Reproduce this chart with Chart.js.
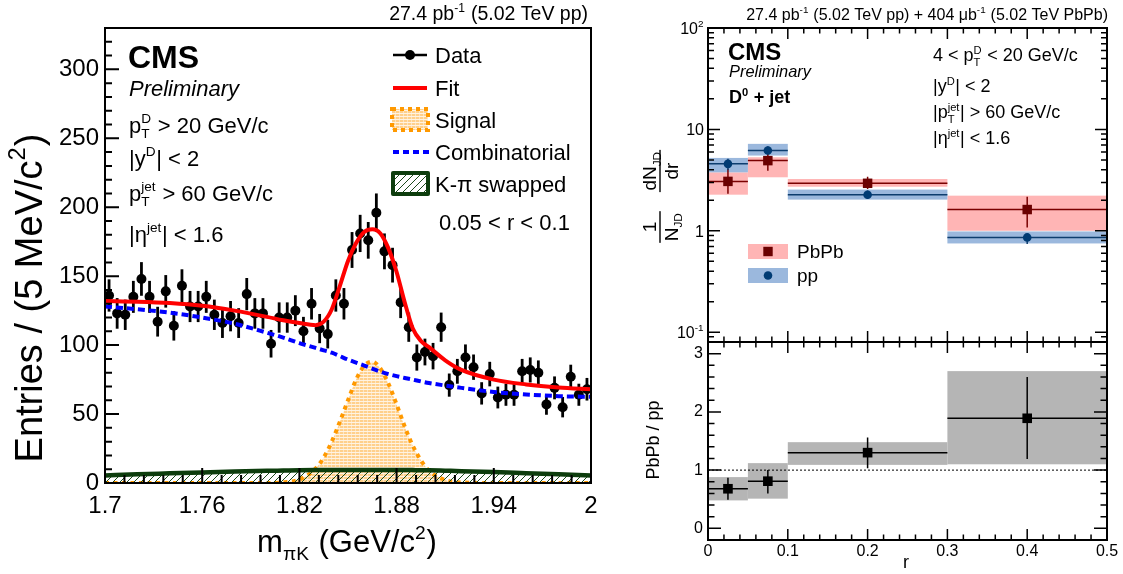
<!DOCTYPE html>
<html>
<head>
<meta charset="utf-8">
<title>D0 + jet radial distribution</title>
<script src="https://cdn.jsdelivr.net/npm/chart.js@4.4.1/dist/chart.umd.min.js"></script>
<style>
  html, body { margin: 0; padding: 0; background: #fff; }
  #wrap { position: relative; width: 1123px; height: 574px; overflow: hidden; background: #fff; }
  canvas { position: absolute; left: 0; top: 0; }
</style>
</head>
<body>
<div id="wrap">
  <canvas id="mass" width="1123" height="574"></canvas>
  <canvas id="dist" width="1123" height="574"></canvas>
  <canvas id="ratio" width="1123" height="574"></canvas>
</div>
<script>
// ---------- invariant-mass fit (0.05 < r < 0.1) ----------
const MASS_CENTRES = [
  1.7025, 1.7075, 1.7125, 1.7175, 1.7225, 1.7275, 1.7325, 1.7375, 1.7425, 1.7475,
  1.7525, 1.7575, 1.7625, 1.7675, 1.7725, 1.7775, 1.7825, 1.7875, 1.7925, 1.7975,
  1.8025, 1.8075, 1.8125, 1.8175, 1.8225, 1.8275, 1.8325, 1.8375, 1.8425, 1.8475,
  1.8525, 1.8575, 1.8625, 1.8675, 1.8725, 1.8775, 1.8825, 1.8875, 1.8925, 1.8975,
  1.9025, 1.9075, 1.9125, 1.9175, 1.9225, 1.9275, 1.9325, 1.9375, 1.9425, 1.9475,
  1.9525, 1.9575, 1.9625, 1.9675, 1.9725, 1.9775, 1.9825, 1.9875, 1.9925, 1.9975
];
const COUNTS = [
  136, 123, 122, 135, 148, 135, 117, 139, 114, 143,
  128, 128, 135, 122, 116, 121, 116, 137, 123, 123,
  101, 120, 120, 125, 110, 130, 112, 108, 136, 130,
  169, 181, 176, 196, 168, 158, 131, 113, 91, 95,
  92, 113, 71, 81, 91, 84, 65, 79, 62, 64,
  64, 81, 82, 80, 57, 69, 55, 77, 64, 68
];
const COUNT_ERRORS = [
  11.7, 11.1, 11.0, 11.6, 12.2, 11.6, 10.8, 11.8, 10.7, 12.0,
  11.3, 11.3, 11.6, 11.0, 10.8, 11.0, 10.8, 11.7, 11.1, 11.1,
  10.0, 11.0, 11.0, 11.2, 10.5, 11.4, 10.6, 10.4, 11.7, 11.4,
  13.0, 13.5, 13.3, 14.0, 13.0, 12.6, 11.4, 10.6, 9.5, 9.7,
  9.6, 10.6, 8.4, 9.0, 9.5, 9.2, 8.1, 8.9, 7.9, 8.0,
  8.0, 9.0, 9.1, 8.9, 7.5, 8.3, 7.4, 8.8, 8.0, 8.2
];
// fit components, sampled along the mass axis
const FIT_MASS = [1.70, 1.72, 1.74, 1.76, 1.78, 1.80, 1.81, 1.82, 1.83, 1.835, 1.84, 1.845, 1.85, 1.855,
  1.86, 1.865, 1.87, 1.875, 1.88, 1.885, 1.89, 1.895, 1.90, 1.91, 1.92, 1.94, 1.96, 1.98, 2.00];
const FIT_TOTAL = [132, 131.5, 130.5, 128.5, 125, 120.5, 118, 116, 114.5, 117, 126, 143, 161, 174,
  182, 184, 181, 170, 153, 131, 112, 103, 98.5, 89, 82, 75, 71.5, 69.3, 68];
const COMBINATORIAL = [128, 126, 123.5, 120, 115.5, 109, 105.5, 101.5, 98, 96.2, 94.5, 92, 89.5, 87.3,
  85.2, 83, 80.8, 79, 77.5, 76.2, 75, 73.7, 72.5, 70.7, 69, 66, 64.2, 63, 62.5];
const SIGNAL = [0, 0, 0, 0, 0, 0, 0.5, 2.5, 10.5, 18.5, 30, 44.5, 60, 75,
  85, 88, 83, 72, 57, 41, 27, 16.5, 9, 2.2, 0.4, 0, 0, 0, 0];
const SWAPPED = [5.5, 6.3, 7.0, 7.7, 8.3, 8.8, 9.0, 9.2, 9.35, 9.4, 9.45, 9.5, 9.5, 9.5,
  9.5, 9.5, 9.5, 9.5, 9.45, 9.4, 9.35, 9.3, 9.2, 8.9, 8.6, 7.9, 7.1, 6.3, 5.5];
const MASS_TICKS = [1.7, 1.76, 1.82, 1.88, 1.94, 2.0];
const COUNT_TICKS = [0, 50, 100, 150, 200, 250, 300];

// ---------- radial distributions ----------
const R_LOW = [0, 0.05, 0.1, 0.3];
const R_HIGH = [0.05, 0.1, 0.3, 0.5];
const R_CENTRE = [0.025, 0.075, 0.2, 0.4];
const PBPB = [3.07, 4.92, 2.94, 1.62];
const PBPB_STAT_LO = [2.32, 3.92, 2.58, 1.08];
const PBPB_STAT_HI = [4.08, 5.74, 3.42, 2.17];
const PBPB_SYST_LO = [2.27, 3.37, 2.72, 1.00];
const PBPB_SYST_HI = [3.77, 5.31, 3.24, 2.22];
const PP = [4.57, 6.19, 2.27, 0.86];
const PP_STAT_LO = [3.98, 5.64, 2.06, 0.74];
const PP_STAT_HI = [5.12, 6.83, 2.49, 0.93];
const PP_SYST_LO = [3.77, 5.52, 2.03, 0.75];
const PP_SYST_HI = [5.23, 7.20, 2.55, 0.985];
const RATIO = [0.68, 0.81, 1.30, 1.89];
const RATIO_STAT_LO = [0.49, 0.60, 1.03, 1.19];
const RATIO_STAT_HI = [0.87, 1.00, 1.56, 2.60];
const RATIO_SYST_LO = [0.48, 0.51, 1.09, 1.10];
const RATIO_SYST_HI = [0.88, 1.12, 1.48, 2.70];
const RATIO_REFERENCE = 1;
const R_TICKS = [0, 0.1, 0.2, 0.3, 0.4, 0.5];
const DIST_TICKS = [0.1, 1, 10, 100];
const DIST_TICK_LABELS = [['10', { sup: '-1' }], ['1'], ['10'], ['10', { sup: '2' }]];
const RATIO_TICKS = [0, 1, 2, 3];

// ---------- helpers ----------
const FONT = "'Liberation Sans', Arial, Helvetica, sans-serif";
Chart.defaults.font.family = FONT;
Chart.defaults.color = '#000';
Chart.defaults.animation = false;
Chart.defaults.events = [];
Chart.defaults.plugins.legend.display = false;
Chart.defaults.plugins.tooltip.enabled = false;

const pts = (xs, ys) => xs.map((x, i) => ({ x, y: ys[i] }));
const fixTicks = values => s => { s.ticks = values.map(v => ({ value: v })); };
const fontStr = (size, o) => `${o.style || 'normal'} ${o.weight || 'normal'} ${size}px ${FONT}`;

// rich text: strings, or {sup, sub} pieces stacked after the preceding glyph
function segWidth(ctx, seg, o) {
  if (typeof seg === 'string') { ctx.font = fontStr(o.size, o); return ctx.measureText(seg).width; }
  ctx.font = fontStr(o.size * 0.62, o);
  const a = seg.sup ? ctx.measureText(seg.sup).width : 0;
  const b = seg.sub ? ctx.measureText(seg.sub).width : 0;
  return Math.max(a, b) + o.size * 0.03;
}
function richWidth(ctx, segs, o) { return segs.reduce((t, s) => t + segWidth(ctx, s, o), 0); }
function drawRich(ctx, segs, x, y, o) {
  const widths = segs.map(s => segWidth(ctx, s, o));
  const total = widths.reduce((a, b) => a + b, 0);
  let cx = o.align === 'right' ? x - total : o.align === 'center' ? x - total / 2 : x;
  const base = y + o.size * 0.358;
  ctx.save();
  ctx.fillStyle = o.color || '#000';
  ctx.textAlign = 'left';
  ctx.textBaseline = 'alphabetic';
  segs.forEach((s, i) => {
    if (typeof s === 'string') {
      ctx.font = fontStr(o.size, o);
      ctx.fillText(s, cx, base);
    } else {
      ctx.font = fontStr(o.size * 0.62, o);
      if (s.sup) ctx.fillText(s.sup, cx, base - o.size * 0.43);
      if (s.sub) ctx.fillText(s.sub, cx, base + o.size * 0.24);
    }
    cx += widths[i];
  });
  ctx.restore();
}
function drawRichRotated(ctx, segs, x, y, o) {
  ctx.save();
  ctx.translate(x, y);
  ctx.rotate(-Math.PI / 2);
  drawRich(ctx, segs, 0, 0, Object.assign({}, o, { align: 'center' }));
  ctx.restore();
}

// fill patterns
function makeHatch() {
  const c = document.createElement('canvas'); c.width = 7; c.height = 7;
  const g = c.getContext('2d');
  g.strokeStyle = '#1b4a1b'; g.lineWidth = 1;
  g.beginPath();
  g.moveTo(0, 7); g.lineTo(7, 0);
  g.moveTo(-1, 1); g.lineTo(1, -1);
  g.moveTo(6, 8); g.lineTo(8, 6);
  g.stroke();
  return g.createPattern(c, 'repeat');
}
function makeSignalFill() {
  const c = document.createElement('canvas'); c.width = 4; c.height = 3;
  const g = c.getContext('2d');
  g.fillStyle = '#ffd08c'; g.fillRect(0, 0, 4, 3);
  g.fillStyle = 'rgba(255,255,255,0.75)'; g.fillRect(0, 2, 4, 1);
  g.fillStyle = 'rgba(255,255,255,0.45)'; g.fillRect(3, 0, 1, 2);
  return g.createPattern(c, 'repeat');
}
const HATCH = makeHatch();
const SIGNAL_FILL = makeSignalFill();

function range(a, b, step) {
  const out = [];
  for (let v = a; v <= b + 1e-9; v += step) out.push(+v.toFixed(6));
  return out;
}

// error bars and systematic boxes, placed through the chart scales
const errorBars = {
  id: 'errorBars',
  beforeDatasetsDraw(chart) {
    const { ctx, chartArea: a, scales: { x, y } } = chart;
    ctx.save();
    ctx.beginPath(); ctx.rect(a.left, a.top, a.right - a.left, a.bottom - a.top); ctx.clip();
    chart.data.datasets.forEach(ds => {
      const b = ds.systBoxes; if (!b) return;
      ctx.fillStyle = b.color;
      b.lo.forEach((lo, i) => {
        const x0 = x.getPixelForValue(b.xLo[i]), x1 = x.getPixelForValue(b.xHi[i]);
        const y0 = y.getPixelForValue(b.hi[i]), y1 = y.getPixelForValue(lo);
        ctx.fillRect(x0, y0, x1 - x0, y1 - y0);
      });
    });
    chart.data.datasets.forEach(ds => {
      const e = ds.errorBars; if (!e) return;
      ctx.strokeStyle = e.color; ctx.lineWidth = e.width; ctx.setLineDash([]);
      ds.data.forEach((p, i) => {
        const px = x.getPixelForValue(p.x);
        ctx.beginPath();
        ctx.moveTo(px, y.getPixelForValue(e.lo[i]));
        ctx.lineTo(px, y.getPixelForValue(e.hi[i]));
        if (e.xLo) {
          const py = y.getPixelForValue(p.y);
          ctx.moveTo(x.getPixelForValue(e.xLo[i]), py);
          ctx.lineTo(x.getPixelForValue(e.xHi[i]), py);
        }
        ctx.stroke();
      });
    });
    ctx.restore();
  }
};

// frame with inward ticks
const rootFrame = {
  id: 'rootFrame',
  afterDatasetsDraw(chart, args, o) {
    const { ctx, chartArea: a, scales } = chart;
    ctx.save();
    ctx.strokeStyle = '#000'; ctx.setLineDash([]); ctx.lineWidth = o.tickWidth;
    ctx.beginPath();
    const doAxis = (spec, scale, horizontal) => {
      if (!spec) return;
      const mark = (v, len) => {
        const p = scale.getPixelForValue(v);
        spec.sides.forEach(s => {
          if (horizontal) {
            if (s === 'bottom') { ctx.moveTo(p, a.bottom); ctx.lineTo(p, a.bottom - len); }
            if (s === 'top') { ctx.moveTo(p, a.top); ctx.lineTo(p, a.top + len); }
          } else {
            if (s === 'left') { ctx.moveTo(a.left, p); ctx.lineTo(a.left + len, p); }
            if (s === 'right') { ctx.moveTo(a.right, p); ctx.lineTo(a.right - len, p); }
          }
        });
      };
      spec.minor.forEach(v => mark(v, spec.len[1]));
      spec.major.forEach(v => mark(v, spec.len[0]));
    };
    doAxis(o.x, scales.x, true);
    doAxis(o.y, scales.y, false);
    ctx.stroke();
    ctx.lineWidth = o.lineWidth;
    ctx.strokeRect(a.left, a.top, a.right - a.left, a.bottom - a.top);
    ctx.restore();
  }
};

// ---------- left: invariant mass ----------
const massText = {
  id: 'massText',
  afterDraw(chart) {
    const ctx = chart.ctx;
    drawRich(ctx, ['27.4 pb', { sup: '-1' }, ' (5.02 TeV pp)'], 588, 13, { size: 19.5, align: 'right' });
    drawRich(ctx, ['CMS'], 128, 57, { size: 32, weight: 'bold' });
    drawRich(ctx, ['Preliminary'], 129, 88, { size: 22, style: 'italic' });
    drawRich(ctx, ['p', { sub: 'T', sup: 'D' }, ' > 20 GeV/c'], 129, 125, { size: 22 });
    drawRich(ctx, ['|y', { sup: 'D' }, '| < 2'], 129, 158, { size: 22 });
    drawRich(ctx, ['p', { sub: 'T', sup: 'jet' }, ' > 60 GeV/c'], 129, 193, { size: 22 });
    drawRich(ctx, ['|\u03B7', { sup: 'jet' }, '| < 1.6'], 129, 234, { size: 22 });
    drawRich(ctx, ['0.05 < r < 0.1'], 439, 222, { size: 22 });

    // legend
    const lx0 = 393, lx1 = 427, tx = 435;
    ctx.save();
    ctx.lineCap = 'butt';
    ctx.strokeStyle = '#000'; ctx.lineWidth = 2.5;
    ctx.beginPath(); ctx.moveTo(lx0, 55); ctx.lineTo(lx1, 55); ctx.stroke();
    ctx.fillStyle = '#000'; ctx.beginPath(); ctx.arc(410, 55, 5, 0, 2 * Math.PI); ctx.fill();
    ctx.strokeStyle = '#ff0000'; ctx.lineWidth = 4;
    ctx.beginPath(); ctx.moveTo(lx0, 88); ctx.lineTo(lx1, 88); ctx.stroke();
    ctx.fillStyle = SIGNAL_FILL; ctx.fillRect(392, 109, 36, 21);
    ctx.strokeStyle = '#ff9900'; ctx.setLineDash([4, 4]); ctx.strokeRect(392, 109, 36, 21);
    ctx.strokeStyle = '#0000ff'; ctx.setLineDash([6, 4]);
    ctx.beginPath(); ctx.moveTo(lx0, 152); ctx.lineTo(lx1 + 2, 152); ctx.stroke();
    ctx.setLineDash([]);
    ctx.fillStyle = '#fff'; ctx.fillRect(393, 173, 35, 21);
    ctx.fillStyle = HATCH; ctx.fillRect(393, 173, 35, 21);
    ctx.strokeStyle = '#0d3d0d'; ctx.lineJoin = 'round'; ctx.strokeRect(393, 173, 35, 21);
    ctx.restore();
    drawRich(ctx, ['Data'], tx, 55, { size: 22 });
    drawRich(ctx, ['Fit'], tx, 88, { size: 22 });
    drawRich(ctx, ['Signal'], tx, 120, { size: 22 });
    drawRich(ctx, ['Combinatorial'], tx, 152, { size: 22 });
    drawRich(ctx, ['K-\u03C0 swapped'], tx, 184, { size: 22 });

    // axis titles
    drawRichRotated(ctx, ['Entries / (5 MeV/c', { sup: '2' }, ')'], 28, 298, { size: 38 });
    drawRich(ctx, ['m', { sub: '\u03C0K' }, ' (GeV/c', { sup: '2' }, ')'], 347, 541, { size: 31, align: 'center' });
  }
};

new Chart(document.getElementById('mass'), {
  type: 'line',
  data: {
    datasets: [
      { label: 'Fit', data: pts(FIT_MASS, FIT_TOTAL), borderColor: '#ff0000', borderWidth: 4,
        pointRadius: 0, cubicInterpolationMode: 'monotone', fill: false },
      { label: 'Combinatorial', data: pts(FIT_MASS, COMBINATORIAL), borderColor: '#0000ff', borderWidth: 4,
        borderDash: [7, 4], pointRadius: 0, cubicInterpolationMode: 'monotone', fill: false },
      { label: 'K-\u03C0 swapped', data: pts(FIT_MASS, SWAPPED), borderColor: '#0d3d0d', borderWidth: 4.5,
        backgroundColor: HATCH, fill: 'origin', pointRadius: 0, cubicInterpolationMode: 'monotone' },
      { label: 'Signal', data: pts(FIT_MASS, SIGNAL), borderColor: '#ff9900', borderWidth: 4,
        borderDash: [4, 4.5], backgroundColor: SIGNAL_FILL, fill: 'origin', pointRadius: 0,
        cubicInterpolationMode: 'monotone' },
      { label: 'Data', data: pts(MASS_CENTRES, COUNTS), showLine: false, pointRadius: 5,
        pointBackgroundColor: '#000', pointBorderColor: '#000', pointBorderWidth: 0,
        errorBars: { lo: COUNTS.map((c, i) => c - COUNT_ERRORS[i]), hi: COUNTS.map((c, i) => c + COUNT_ERRORS[i]),
          color: '#000', width: 2.8 } }
    ]
  },
  options: {
    responsive: false,
    layout: { padding: { left: 0, top: 28, right: 532, bottom: 0 } },
    scales: {
      x: { type: 'linear', min: 1.7, max: 2.0,
        afterFit: s => { s.height = 91; }, afterBuildTicks: fixTicks(MASS_TICKS),
        grid: { display: false, drawTicks: false }, border: { display: false },
        ticks: { font: { size: 24 }, color: '#000', padding: 9, maxRotation: 0, autoSkip: false,
          callback: v => String(+(+v).toFixed(2)) } },
      y: { type: 'linear', min: 0, max: 330,
        afterFit: s => { s.width = 105; }, afterBuildTicks: fixTicks(COUNT_TICKS),
        grid: { display: false, drawTicks: false }, border: { display: false },
        ticks: { font: { size: 24 }, color: '#000', padding: 6, autoSkip: false } }
    },
    plugins: {
      rootFrame: { lineWidth: 2, tickWidth: 2,
        x: { major: MASS_TICKS, minor: range(1.7, 2.0, 0.012), sides: ['bottom'], len: [15, 8] },
        y: { major: COUNT_TICKS, minor: range(0, 330, 10), sides: ['left'], len: [14, 7] } }
    }
  },
  plugins: [errorBars, rootFrame, massText]
});

// ---------- right top: 1/N dN/dr ----------
const distText = {
  id: 'distText',
  afterDraw(chart) {
    const ctx = chart.ctx, y = chart.scales.y;
    DIST_TICKS.forEach((v, i) => drawRich(ctx, DIST_TICK_LABELS[i], 704, y.getPixelForValue(v), { size: 16, align: 'right' }));
    drawRich(ctx, ['27.4 pb', { sup: '-1' }, ' (5.02 TeV pp) + 404 \u03BCb', { sup: '-1' }, ' (5.02 TeV PbPb)'],
      1108, 14, { size: 16, align: 'right' });
    drawRich(ctx, ['CMS'], 728, 51, { size: 24, weight: 'bold' });
    drawRich(ctx, ['Preliminary'], 729, 71, { size: 16.4, style: 'italic' });
    drawRich(ctx, ['D', { sup: '0' }, ' + jet'], 729, 97, { size: 18, weight: 'bold' });
    drawRich(ctx, ['4 < p', { sub: 'T', sup: 'D' }, ' < 20 GeV/c'], 933, 55, { size: 18 });
    drawRich(ctx, ['|y', { sup: 'D' }, '| < 2'], 933, 86, { size: 18 });
    drawRich(ctx, ['|p', { sub: 'T', sup: 'jet' }, '| > 60 GeV/c'], 933, 112, { size: 18 });
    drawRich(ctx, ['|\u03B7', { sup: 'jet' }, '| < 1.6'], 933, 138, { size: 18 });

    // legend
    ctx.save();
    ctx.fillStyle = '#ffb5b5'; ctx.fillRect(748, 244, 40, 15);
    ctx.fillStyle = '#6b0000'; ctx.fillRect(768 - 4.7, 251.5 - 4.7, 9.4, 9.4);
    ctx.fillStyle = '#9bb8dd'; ctx.fillRect(748, 268, 40, 15);
    ctx.fillStyle = '#003b73'; ctx.beginPath(); ctx.arc(768, 275.5, 4.3, 0, 2 * Math.PI); ctx.fill();
    ctx.restore();
    drawRich(ctx, ['PbPb'], 797, 251, { size: 19 });
    drawRich(ctx, ['pp'], 797, 275, { size: 19 });

    // y-axis title: 1/N_JD dN_JD/dr
    const o = { size: 19 };
    ctx.save();
    ctx.translate(660, 195);
    ctx.rotate(-Math.PI / 2);
    const frac = (num, den, u) => {
      const w = Math.max(richWidth(ctx, num, o), richWidth(ctx, den, o)) + 3;
      ctx.fillStyle = '#000';
      ctx.fillRect(u - w / 2, -0.7, w, 1.4);
      drawRich(ctx, num, u, -10.5, Object.assign({ align: 'center' }, o));
      drawRich(ctx, den, u, 11, Object.assign({ align: 'center' }, o));
    };
    frac(['1'], ['N', { sub: 'JD' }], -32);
    frac(['dN', { sub: 'JD' }], ['dr'], 24);
    ctx.restore();
  }
};

new Chart(document.getElementById('dist'), {
  type: 'scatter',
  data: {
    datasets: [
      { label: 'PbPb', data: pts(R_CENTRE, PBPB), pointStyle: 'rect', pointRadius: 6.7,
        pointBackgroundColor: '#6b0000', pointBorderColor: '#6b0000', pointBorderWidth: 0,
        systBoxes: { lo: PBPB_SYST_LO, hi: PBPB_SYST_HI, xLo: R_LOW, xHi: R_HIGH, color: '#ffb5b5' },
        errorBars: { lo: PBPB_STAT_LO, hi: PBPB_STAT_HI, xLo: R_LOW, xHi: R_HIGH, color: '#7a0000', width: 1.5 } },
      { label: 'pp', data: pts(R_CENTRE, PP), pointStyle: 'circle', pointRadius: 4.3,
        pointBackgroundColor: '#003b73', pointBorderColor: '#003b73', pointBorderWidth: 0,
        systBoxes: { lo: PP_SYST_LO, hi: PP_SYST_HI, xLo: R_LOW, xHi: R_HIGH, color: '#9bb8dd' },
        errorBars: { lo: PP_STAT_LO, hi: PP_STAT_HI, xLo: R_LOW, xHi: R_HIGH, color: '#0d3d6e', width: 1.5 } }
    ]
  },
  options: {
    responsive: false,
    layout: { padding: { left: 0, top: 28, right: 16, bottom: 0 } },
    scales: {
      x: { type: 'linear', min: 0, max: 0.5,
        afterFit: s => { s.height = 232; }, afterBuildTicks: fixTicks(R_TICKS),
        grid: { display: false, drawTicks: false }, border: { display: false }, ticks: { display: false } },
      y: { type: 'logarithmic', min: 0.08, max: 100,
        afterFit: s => { s.width = 708; }, afterBuildTicks: fixTicks(DIST_TICKS),
        grid: { display: false, drawTicks: false }, border: { display: false }, ticks: { display: false } }
    },
    plugins: {
      rootFrame: { lineWidth: 2, tickWidth: 1.5,
        x: { major: R_TICKS, minor: range(0, 0.5, 0.02), sides: ['bottom', 'top'], len: [11, 5.5] },
        y: { major: DIST_TICKS,
             minor: [0.08, 0.09, 0.2, 0.3, 0.4, 0.5, 0.6, 0.7, 0.8, 0.9, 2, 3, 4, 5, 6, 7, 8, 9, 20, 30, 40, 50, 60, 70, 80, 90],
             sides: ['left', 'right'], len: [12, 6] } }
    }
  },
  plugins: [errorBars, rootFrame, distText]
});

// ---------- right bottom: PbPb / pp ----------
const ratioText = {
  id: 'ratioText',
  afterDraw(chart) {
    const ctx = chart.ctx;
    drawRichRotated(ctx, ['PbPb / pp'], 653, 440, { size: 18 });
    drawRich(ctx, ['r'], 906, 562, { size: 18, align: 'center' });
  }
};

new Chart(document.getElementById('ratio'), {
  type: 'scatter',
  data: {
    datasets: [
      { label: 'PbPb / pp', data: pts(R_CENTRE, RATIO), pointStyle: 'rect', pointRadius: 6.8,
        pointBackgroundColor: '#000', pointBorderColor: '#000', pointBorderWidth: 0,
        systBoxes: { lo: RATIO_SYST_LO, hi: RATIO_SYST_HI, xLo: R_LOW, xHi: R_HIGH, color: '#b5b5b5' },
        errorBars: { lo: RATIO_STAT_LO, hi: RATIO_STAT_HI, xLo: R_LOW, xHi: R_HIGH, color: '#000', width: 1.5 } },
      { label: 'unity', type: 'line', data: pts([0, 0.5], [RATIO_REFERENCE, RATIO_REFERENCE]),
        showLine: true, borderColor: '#000', borderWidth: 1, borderDash: [2, 2], pointRadius: 0, fill: false }
    ]
  },
  options: {
    responsive: false,
    layout: { padding: { left: 0, top: 342, right: 16, bottom: 0 } },
    scales: {
      x: { type: 'linear', min: 0, max: 0.5,
        afterFit: s => { s.height = 34; }, afterBuildTicks: fixTicks(R_TICKS),
        grid: { display: false, drawTicks: false }, border: { display: false },
        ticks: { font: { size: 16 }, color: '#000', padding: 2, maxRotation: 0, autoSkip: false,
          callback: v => String(+(+v).toFixed(1)) } },
      y: { type: 'linear', min: -0.2, max: 3.2,
        afterFit: s => { s.width = 708; }, afterBuildTicks: fixTicks(RATIO_TICKS),
        grid: { display: false, drawTicks: false }, border: { display: false },
        ticks: { font: { size: 16 }, color: '#000', padding: 5, autoSkip: false } }
    },
    plugins: {
      rootFrame: { lineWidth: 2, tickWidth: 1.5,
        x: { major: R_TICKS, minor: range(0, 0.5, 0.02), sides: ['bottom', 'top'], len: [11, 5.5] },
        y: { major: RATIO_TICKS, minor: range(-0.2, 3.2, 0.2), sides: ['left', 'right'], len: [13, 6.5] } }
    }
  },
  plugins: [errorBars, rootFrame, ratioText]
});
</script>
</body>
</html>
